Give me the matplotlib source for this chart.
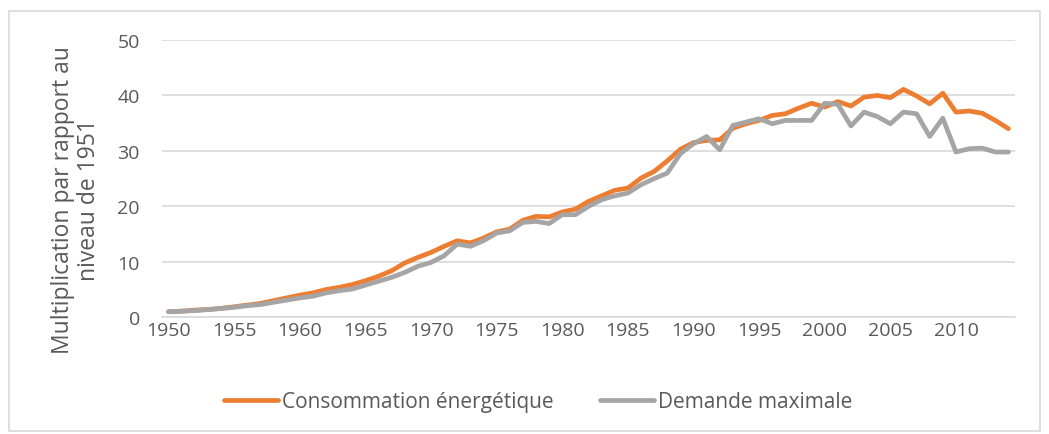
import matplotlib.pyplot as plt
import numpy as np
from matplotlib.patches import Rectangle

years = np.arange(1950, 2015)

consommation = [
    1.0, 1.1, 1.3, 1.4, 1.6, 1.9, 2.2, 2.5, 3.0, 3.5,
    4.0, 4.4, 5.0, 5.4, 5.9, 6.6, 7.4, 8.4, 9.8, 10.8,
    11.7, 12.8, 13.8, 13.4, 14.3, 15.4, 15.9, 17.5, 18.2, 18.1,
    19.0, 19.5, 20.9, 21.9, 22.9, 23.3, 25.1, 26.3, 28.2, 30.3,
    31.5, 31.9, 32.0, 34.1, 34.9, 35.5, 36.4, 36.7, 37.7, 38.6,
    37.9, 38.9, 38.1, 39.7, 40.0, 39.6, 41.1, 39.9, 38.5, 40.4,
    37.0, 37.2, 36.8, 35.5, 34.0,
]
demande = [
    1.0, 1.1, 1.2, 1.4, 1.6, 1.8, 2.1, 2.3, 2.7, 3.1,
    3.5, 3.8, 4.4, 4.8, 5.1, 5.8, 6.5, 7.2, 8.1, 9.2,
    9.9, 11.1, 13.2, 12.8, 13.8, 15.2, 15.6, 17.1, 17.3, 16.9,
    18.5, 18.5, 20.0, 21.2, 21.9, 22.4, 23.9, 25.0, 26.0, 29.5,
    31.3, 32.6, 30.2, 34.6, 35.2, 35.8, 34.9, 35.5, 35.5, 35.5,
    38.6, 38.4, 34.5, 37.0, 36.2, 34.9, 37.0, 36.7, 32.6, 35.9,
    29.8, 30.4, 30.5, 29.8, 29.8,
]
labels = ['Consommation énergétique', 'Demande maximale']
ylabel = 'Multiplication par rapport au\nniveau de 1951'

plt.rcParams['font.family'] = ['Open Sans', 'DejaVu Sans']
txt = '#595959'
grid = '#D9D9D9'

fig = plt.figure(figsize=(10.49, 4.35), dpi=100)
ax = fig.add_axes([162 / 1049, 1 - 318.3 / 435, 853 / 1049, 277.3 / 435])

ax.plot(years, consommation, color='#ED7D31', lw=3.4, label=labels[0], solid_capstyle='round')
ax.plot(years, demande, color='#A5A5A5', lw=3.4, label=labels[1], solid_capstyle='round')

ax.set_xlim(1949.5, 2014.5)
ax.set_ylim(0, 50)
ax.set_yticks(range(0, 51, 10))
ax.set_xticks(range(1950, 2015, 5))
ax.grid(axis='y', color=grid, lw=1.2)
ax.set_axisbelow(True)
for s in ['top', 'right', 'left']:
    ax.spines[s].set_visible(False)
ax.spines['bottom'].set_color(grid)
ax.spines['bottom'].set_linewidth(1.2)
ax.tick_params(length=0, labelsize=14, labelcolor=txt)
ax.tick_params(axis='y', pad=16)
ax.tick_params(axis='x', pad=3)
ax.set_ylabel(ylabel, fontsize=16.5, color=txt, linespacing=1.1)
ax.yaxis.set_label_coords(-0.072, 0.425)

fig.legend(loc='center', bbox_to_anchor=(538 / 1049, 1 - 403 / 435), ncol=2, frameon=False,
           fontsize=15, labelcolor=txt, handlelength=2.6, handletextpad=0.2, columnspacing=2.2)

fig.patches.append(Rectangle((9 / 1049, 3 / 435), 1031 / 1049, 420 / 435, transform=fig.transFigure,
                             fill=False, edgecolor=grid, lw=1.2))

fig.savefig('out.png', dpi=100)
